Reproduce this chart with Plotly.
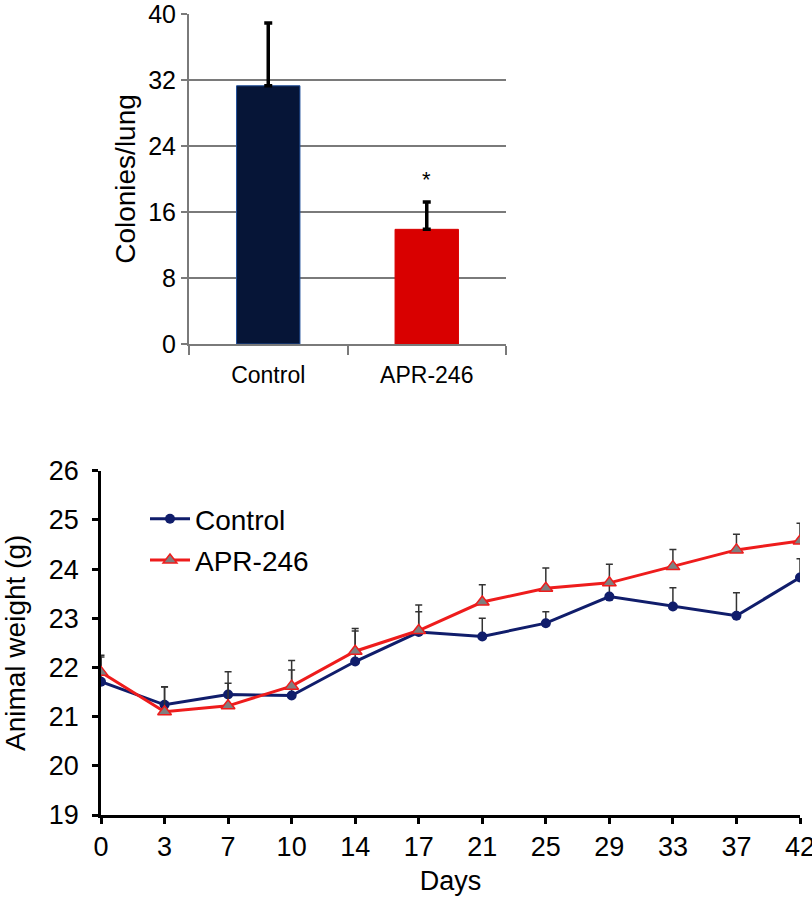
import plotly.graph_objects as go

# ---- Top chart data ----
bar_categories = ["Control", "APR-246"]
bar_values = [31.3, 13.9]
bar_errors = [7.6, 3.3]
bar_colors = ["#061537", "#d90000"]
bar_yticks = [0, 8, 16, 24, 32, 40]

# ---- Bottom chart data ----
days = ["0", "3", "7", "10", "14", "17", "21", "25", "29", "33", "37", "42"]
control_weight = [21.71, 21.24, 21.45, 21.43, 22.12, 22.72, 22.63, 22.90, 23.44, 23.24, 23.05, 23.83]
control_err = [0.5, 0.37, 0.46, 0.52, 0.62, 0.41, 0.37, 0.23, 0.25, 0.38, 0.47, 0.38]
apr_weight = [21.90, 21.10, 21.22, 21.62, 22.33, 22.75, 23.33, 23.61, 23.72, 24.05, 24.39, 24.57]
apr_err = [0.35, 0.5, 0.46, 0.52, 0.46, 0.52, 0.35, 0.41, 0.38, 0.35, 0.32, 0.36]
weight_yticks = [19, 20, 21, 22, 23, 24, 25, 26]

FONT = "Liberation Sans, Arial, sans-serif"
W, H = 812, 900

fig = go.Figure()

fig.add_trace(go.Bar(
    x=bar_categories, y=bar_values,
    marker=dict(color=bar_colors, line=dict(color=["#1f4e9a", "#d90000"], width=1)),
    error_y=dict(type="data", array=bar_errors, arrayminus=[0, 0], symmetric=False,
                 color="black", thickness=3.5, width=4),
    xaxis="x", yaxis="y", showlegend=False, width=0.4,
))

fig.add_trace(go.Scatter(
    x=days, y=control_weight, name="Control", mode="lines+markers",
    line=dict(color="#101d6b", width=3),
    marker=dict(symbol="circle", size=10, color="#101d6b"),
    error_y=dict(type="data", array=control_err, arrayminus=[0] * len(days), symmetric=False,
                 color="#333333", thickness=1.5, width=3.5),
    xaxis="x2", yaxis="y2", legendgroup="a",
))
fig.add_trace(go.Scatter(
    x=days, y=apr_weight, name="APR-246", mode="lines+markers",
    line=dict(color="#ee1c1c", width=3),
    marker=dict(symbol="triangle-up", size=12, color="#7f7f7f", line=dict(color="#ee1c1c", width=1.5)),
    error_y=dict(type="data", array=apr_err, arrayminus=[0] * len(days), symmetric=False,
                 color="#333333", thickness=1.5, width=3.5),
    xaxis="x2", yaxis="y2", legendgroup="b",
))

fig.add_annotation(x="APR-246", y=19.9, xref="x", yref="y", text="*", showarrow=False,
                   font=dict(size=22, color="black", family=FONT))

fig.update_layout(
    width=W, height=H,
    margin=dict(l=0, r=0, t=0, b=0, autoexpand=False),
    paper_bgcolor="white", plot_bgcolor="white",
    font=dict(family=FONT, size=24, color="black"),
    xaxis=dict(domain=[189 / W, 506 / W], anchor="y", type="category", automargin=False,
               showline=True, linecolor="#7a7a7a", linewidth=2,
               ticks="outside", tickson="boundaries", ticklen=9, tickcolor="#7a7a7a", tickwidth=2,
               tickfont=dict(size=23), showgrid=False, ticklabelstandoff=9,
               ticklabeloverflow="allow"),
    yaxis=dict(domain=[1 - 344 / H, 1 - 14 / H], anchor="x", range=[0, 40], tickvals=bar_yticks,
               automargin=False, ticklabeloverflow="allow",
               showline=True, linecolor="#7a7a7a", linewidth=2,
               ticks="outside", ticklen=6, tickcolor="#7a7a7a", tickwidth=2,
               showgrid=True, gridcolor="#7a7a7a", gridwidth=1.5, zeroline=False,
               tickfont=dict(size=25), ticklabelstandoff=0,
               title=dict(text="Colonies/lung", font=dict(size=28), standoff=4)),
    xaxis2=dict(domain=[101 / W, 800 / W], anchor="y2", type="category", range=[0, 11],
                automargin=False, ticklabeloverflow="allow",
                showline=True, linecolor="black", linewidth=2.5,
                ticks="outside", ticklen=6, tickcolor="black", tickwidth=2.5,
                tickfont=dict(size=27), showgrid=False,
                title=dict(text="Days", font=dict(size=27), standoff=10)),
    yaxis2=dict(domain=[1 - 815 / H, 1 - 470.7 / H], anchor="x2", range=[19, 26], tickvals=weight_yticks,
                automargin=False, ticklabeloverflow="allow",
                showline=True, linecolor="black", linewidth=2.5,
                ticks="outside", ticklen=6, tickcolor="black", tickwidth=2.5,
                showgrid=False, zeroline=False, tickfont=dict(size=27), ticklabelstandoff=8,
                title=dict(text="Animal weight (g)", font=dict(size=28), standoff=19)),
    legend=dict(x=145 / W, y=1 - 494 / H, xanchor="left", yanchor="top", bgcolor="rgba(0,0,0,0)",
                font=dict(size=28), itemwidth=40, tracegroupgap=2, traceorder="grouped"),
    showlegend=True,
)

fig.write_html("out.html", config={"displayModeBar": False},
               post_script="document.body.style.margin='0';")
